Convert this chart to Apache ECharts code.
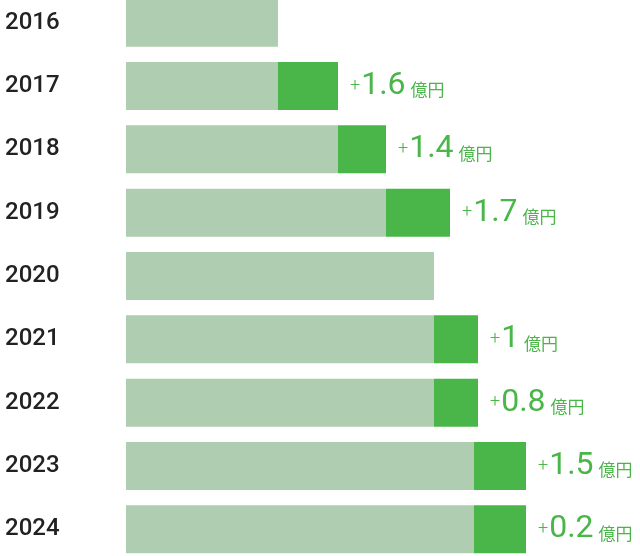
<!DOCTYPE html>
<html><head><meta charset="utf-8">
<script src="https://cdn.jsdelivr.net/npm/echarts@6/dist/echarts.min.js"></script>
<style>html,body{margin:0;padding:0;background:#fff}#c{width:640px;height:556px}</style>
</head><body><div id="c"></div>
<script>
const years = ['2016','2017','2018','2019','2020','2021','2022','2023','2024'];
const baseValues = [152,152,212,260,308,308,308,348,348];
const incValues = [0,60,48,64,0,44,44,52,52];
const incLabels = ['','1.6','1.4','1.7','','1','0.8','1.5','0.2'];
const chart = echarts.init(document.getElementById('c'));
chart.setOption({
  animation:false,
  grid:{left:126,right:0,top:-9,height:570,containLabel:false,outerBoundsMode:'none'},
  xAxis:{type:'value',min:0,max:514,show:false},
  yAxis:{type:'category',data:years,inverse:true,axisLine:{show:false},axisTick:{show:false},
    axisLabel:{margin:28,align:'left',padding:[0,0,0,-126],
      formatter:v=>'{c|}{y|'+v+'}',
      rich:{c:{width:11,height:11,borderRadius:6,borderColor:'#777',borderWidth:1.5,backgroundColor:'#fff'},
            y:{fontFamily:'Roboto',fontSize:24,fontWeight:500,color:'#222',padding:[0,0,0,22]}}}},
  series:[
    {type:'bar',stack:'s',data:baseValues,barWidth:48,itemStyle:{color:'#afcdb0'}},
    {type:'bar',stack:'s',data:incValues,barWidth:48,itemStyle:{color:'#4ab649'},
     label:{show:true,position:'right',distance:12,
       formatter:p=>incLabels[p.dataIndex]?'{p|+}{n|'+incLabels[p.dataIndex]+'}{u| 億円}':'',
       rich:{p:{fontFamily:'Roboto',fontSize:18,color:'#4ab649',fontWeight:300,padding:[0,1,0,0]},
             n:{fontFamily:'Liberation Sans Narrow, Roboto',fontSize:32,color:'#4ab649',padding:[0,1,0,0]},
             u:{fontFamily:'Noto Sans CJK JP',fontSize:17,color:'#4ab649',padding:[8,0,0,0]}}}}
  ]
});
</script></body></html>
